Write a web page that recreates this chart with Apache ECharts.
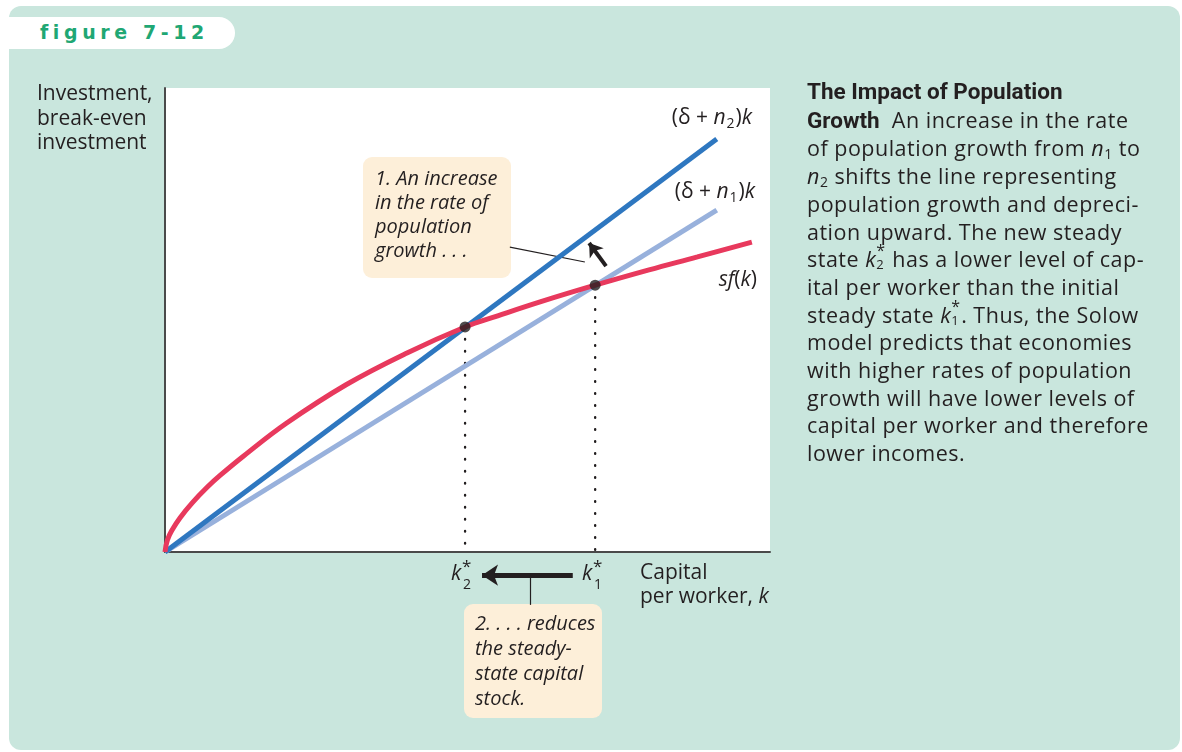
<!DOCTYPE html>
<html>
<head>
<meta charset="utf-8">
<title>figure 7-12</title>
<script src="https://cdn.jsdelivr.net/npm/echarts@6/dist/echarts.min.js"></script>
<style>
html, body { margin: 0; padding: 0; background: #fff; }
.page { position: relative; width: 1182px; height: 752px; overflow: hidden; }
.panel { position: absolute; left: 9px; top: 6px; width: 1171px; height: 744px; background: #c9e6dd; border-radius: 12px; }
.tab { position: absolute; left: 9px; top: 17px; width: 226px; height: 32px; background: #fff; border-radius: 0 16px 16px 0; }
.tab span { position: absolute; left: 31px; top: 4px; font: bold 19px "DejaVu Sans", sans-serif; color: #1fa774; letter-spacing: 4.6px; }
#chart { position: absolute; left: 0; top: 0; width: 1182px; height: 752px; }
.caption { position: absolute; left: 807px; top: 77px; width: 374px; font: 21.5px/27.7px "Open Sans", sans-serif; letter-spacing: 0.5px; color: #231f20; white-space: nowrap; }
.caption b { font-family: Roboto, sans-serif; font-weight: 700; font-size: 22.5px; letter-spacing: 0; }
.caption i { font-style: italic; }
.caption sub { font-size: 14px; line-height: 0; vertical-align: -3px; }
.kk { display: inline-block; position: relative; width: 10px; height: 10px; }
.kk .s { position: absolute; left: 0; top: -15px; font-size: 16px; line-height: 1; }
.kk .d { position: absolute; left: 0; top: 1px; font-size: 13px; line-height: 1; }
</style>
</head>
<body>
<div class="page">
  <div class="panel"></div>
  <div class="tab"><span>figure 7-12</span></div>
  <div id="chart"></div>
  <div class="caption">
    <b>The Impact of Population</b><br>
    <b>Growth</b>&nbsp; An increase in the rate<br>
    of population growth from <i>n</i><sub>1</sub> to<br>
    <i>n</i><sub>2</sub> shifts the line representing<br>
    population growth and depreci-<br>
    ation upward. The new steady<br>
    state <i>k</i><span class="kk"><span class="s">*</span><span class="d">2</span></span> has a lower level of cap-<br>
    ital per worker than the initial<br>
    steady state <i>k</i><span class="kk"><span class="s">*</span><span class="d">1</span></span>. Thus, the Solow<br>
    model predicts that economies<br>
    with higher rates of population<br>
    growth will have lower levels of<br>
    capital per worker and therefore<br>
    lower incomes.
  </div>
</div>
<script>
// --- 数据 ---
const breakEvenN2 = [[0, 0], [91.2, 89.0]];   // (δ + n2)k
const breakEvenN1 = [[0, 0], [91.2, 73.7]];   // (δ + n1)k
const capitalK = [0, 0.4, 1.2, 2.5, 4.5, 7, 9.1, 13, 20, 30, 40, 49.6, 55, 62, 71.1, 80, 88, 97];
const savingSf = [0, 2.6, 4.8, 7.4, 10.6, 14.0, 16.5, 20.7, 27.7, 36.1, 42.9, 48.5, 50.9, 53.9, 57.5, 60.8, 63.6, 66.8];
const steadyStates = [[49.6, 48.5], [71.1, 57.5]];   // k2*, k1*
const shiftArrow = [[72.9, 61.6], [70.1, 66.6]];
const leaderLine1 = [[57.0, 65.7], [69.4, 62.5]];
const capitalArrow = [[67.4, -5], [52.4, -5]];
const leaderLine2 = [[60.3, -5], [60.3, -11.4]];

const ink = '#231f20';
const font = '"Open Sans", sans-serif';

const chart = echarts.init(document.getElementById('chart'));

const rich = {
  n: { fontFamily: font, fontSize: 21, color: ink },
  i: { fontFamily: font, fontSize: 21, fontStyle: 'italic', color: ink },
  sub: { fontFamily: font, fontSize: 14, color: ink, padding: [12, 1, 0, 1] }
};

const txt = (x, y, text, extra) => ({
  type: 'text', x, y,
  style: Object.assign({ text, fontFamily: font, fontSize: 21, fill: ink }, extra)
});

const graphic = [
  // y 轴标题
  txt(37, 82, 'Investment,\nbreak-even\ninvestment', { lineHeight: 24.5 }),
  // 曲线标签
  txt(752, 118, '{n|(δ + }{i|n}{sub|2}{n|)}{i|k}', { rich, align: 'right', verticalAlign: 'middle' }),
  txt(755, 192, '{n|(δ + }{i|n}{sub|1}{n|)}{i|k}', { rich, align: 'right', verticalAlign: 'middle' }),
  txt(757, 280, '{i|sf}{n|(}{i|k}{n|)}', { rich, align: 'right', verticalAlign: 'middle' }),
  // x 轴标签
  txt(640, 563, 'Capital', {}),
  txt(640, 587, '{n|per worker, }{i|k}', { rich }),
  // k2*, k1*
  txt(451, 564, 'k', { fontStyle: 'italic' }),
  txt(462, 559, '*', { fontSize: 17 }),
  txt(463, 578, '2', { fontSize: 14 }),
  txt(582, 564, 'k', { fontStyle: 'italic' }),
  txt(593, 559, '*', { fontSize: 17 }),
  txt(594, 578, '1', { fontSize: 14 }),
  // 注释框 1
  { type: 'rect', shape: { x: 363, y: 157, width: 148, height: 121, r: 9 }, style: { fill: '#fdefd9' } },
  txt(375, 167, '1. An increase\nin the rate of\npopulation\ngrowth . . .', { fontStyle: 'italic', fontSize: 20, lineHeight: 24 }),
  // 注释框 2
  { type: 'rect', shape: { x: 464, y: 604, width: 138, height: 114, r: 9 }, style: { fill: '#fdefd9' } },
  txt(475, 612, '2. . . . reduces\nthe steady-\nstate capital\nstock.', { fontStyle: 'italic', fontSize: 20, lineHeight: 25 })
];

const arrowLines = (coords, width, arrow) => ({
  type: 'lines',
  coordinateSystem: 'cartesian2d',
  clip: false,
  silent: true,
  symbol: arrow ? ['none', 'arrow'] : ['none', 'none'],
  symbolSize: arrow || 0,
  lineStyle: { color: ink, width, opacity: 1 },
  data: [{ coords }]
});

chart.setOption({
  animation: false,
  grid: { left: 165, top: 88, width: 605, height: 464, show: true, backgroundColor: '#fff', borderWidth: 0 },
  xAxis: {
    type: 'value', min: 0, max: 100,
    axisLine: { show: true, onZero: false, lineStyle: { color: '#4a4a4a', width: 2 } },
    axisTick: { show: false }, axisLabel: { show: false }, splitLine: { show: false }
  },
  yAxis: {
    type: 'value', min: 0, max: 100,
    axisLine: { show: true, onZero: false, lineStyle: { color: '#4a4a4a', width: 2 } },
    axisTick: { show: false }, axisLabel: { show: false }, splitLine: { show: false }
  },
  graphic,
  series: [
    // 稳态虚线
    ...steadyStates.map(p => ({
      type: 'line', data: [p, [p[0], 0]], symbol: 'none',
      lineStyle: { color: ink, width: 2.4, type: [0.5, 11.5], cap: 'round' }
    })),
    { type: 'line', data: breakEvenN1, symbol: 'none', lineStyle: { color: '#98b1dc', width: 5 } },
    { type: 'line', data: breakEvenN2, symbol: 'none', lineStyle: { color: '#2e77c0', width: 5 } },
    {
      type: 'line', data: capitalK.map((k, i) => [k, savingSf[i]]), symbol: 'none', smooth: 0.4,
      lineStyle: { color: '#e8395d', width: 5 }
    },
    { type: 'scatter', data: steadyStates, symbolSize: 11, itemStyle: { color: ink }, z: 5 },
    arrowLines(shiftArrow, 4, 13),
    arrowLines(leaderLine1, 1.2, 0),
    arrowLines(capitalArrow, 5, 16),
    arrowLines(leaderLine2, 1.2, 0)
  ]
});
</script>
</body>
</html>
